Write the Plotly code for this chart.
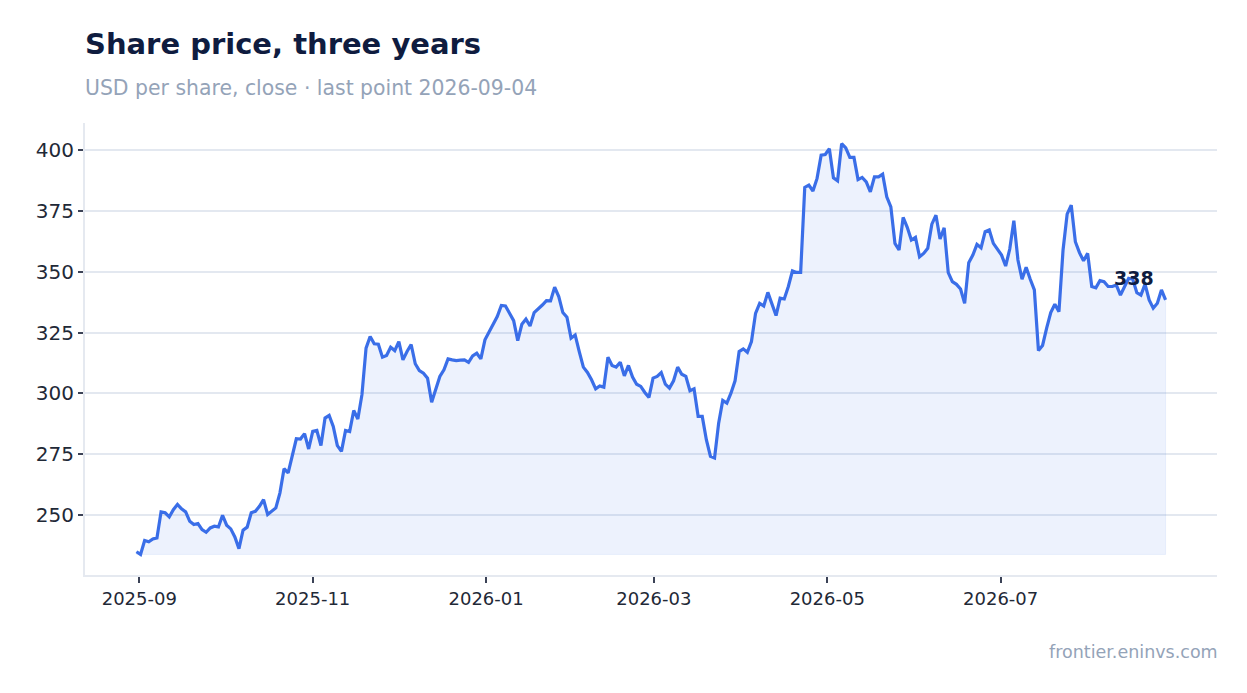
import pandas as pd
import plotly.graph_objects as go

# closing price, one value per session
price = [
    235.0, 233.9, 239.6, 239.1, 240.3, 240.7, 251.4, 251.0, 249.3, 252.3,
    254.4, 252.6, 251.4, 247.5, 246.2, 246.6, 244.1, 243.0, 244.8, 245.5,
    245.2, 250.0, 245.9, 244.4, 241.1, 236.3, 243.9, 245.1, 251.0, 251.6,
    253.7, 256.4, 250.3, 251.6, 253.0, 259.2, 269.1, 267.4, 274.9, 281.4,
    281.3, 283.5, 277.2, 284.4, 284.8, 278.6, 289.9, 291.0, 286.5, 278.6,
    276.2, 284.8, 284.4, 293.0, 289.5, 299.5, 318.6, 323.4, 320.4, 320.2,
    314.9, 315.6, 319.0,
    317.6, 321.3, 313.8, 317.2, 320.1, 312.2, 309.4, 308.3, 306.3, 296.4,
    302.2, 307.0, 309.7, 314.2, 313.8, 313.5, 313.7, 313.8, 312.8, 315.4,
    316.5, 314.2, 322.0, 325.0, 328.1, 331.6, 336.1, 335.9, 332.9, 329.9,
    321.7, 328.4, 330.5, 327.7, 333.2, 334.6, 336.3, 338.1, 338.0, 343.6,
    339.8, 333.2, 331.3, 322.7, 324.0, 317.2, 310.8, 308.6, 305.6, 301.9,
    303.1, 302.6, 314.9, 311.5, 310.8, 312.8, 307.2, 311.5, 306.7, 303.8,
    302.9, 300.4,
    298.4, 306.3, 307.0, 308.6, 303.8, 302.2, 305.2, 310.8, 307.9, 307.0,
    301.1, 301.9, 290.6, 290.6, 281.0, 274.2, 273.5, 287.8, 297.1, 296.0,
    300.1, 305.2, 317.2, 318.3, 316.9, 321.3, 332.9, 337.0, 335.9, 341.5,
    336.6, 332.0, 339.1, 338.8, 343.9, 350.3, 349.7, 349.7, 384.6, 385.5,
    383.1, 388.3, 397.8, 398.1, 400.5, 388.5, 387.3, 402.6, 400.8, 396.9,
    396.9, 387.8, 388.7, 386.9, 382.8, 388.9, 388.9, 390.0, 380.7, 376.6,
    361.6, 358.9,
    372.3, 368.2, 363.0, 364.1, 356.1, 357.5, 359.6, 369.5, 373.2, 363.4,
    368.0, 349.6, 345.9, 344.8, 342.9, 337.0, 353.7, 356.8, 361.2, 359.8,
    366.4, 367.1, 361.6, 358.9, 356.8, 352.3, 359.3, 370.9, 354.8, 346.9,
    351.8, 346.9, 342.5, 317.6, 319.7, 326.8, 333.2, 336.6, 333.6, 358.9,
    373.6, 377.3, 362.3, 357.8, 354.5, 357.5, 343.9, 343.4, 346.3, 345.9,
    343.9, 343.9, 344.5, 340.4, 344.1, 347.3, 346.9, 341.4, 340.4, 344.9,
    338.4, 335.0, 337.0, 342.5, 338.4,
]
first_date = "2025-08-31"
last_date = "2026-08-28"
x_ticks = ["2025-09-01", "2025-11-01", "2026-01-01", "2026-03-01", "2026-05-01", "2026-07-01"]
x_tick_labels = ["2025-09", "2025-11", "2026-01", "2026-03", "2026-05", "2026-07"]
y_ticks = [250, 275, 300, 325, 350, 375, 400]

dates = pd.date_range(first_date, last_date, periods=len(price))
base = min(price)

line_col = "#3a6ee8"
ink = "#0f1c3f"
grey = "#94a3b8"

fig = go.Figure()
# shaded area down to the lowest close
fig.add_trace(go.Scatter(
    x=list(dates) + list(dates[::-1]),
    y=price + [base] * len(price),
    fill="toself", fillcolor="rgba(58,110,232,0.09)",
    line=dict(color="rgba(58,110,232,0.08)", width=1),
    hoverinfo="skip", showlegend=False,
))
fig.add_trace(go.Scatter(
    x=dates, y=price, mode="lines",
    line=dict(color=line_col, width=3.2),
    showlegend=False,
))

span_y = max(price) - min(price)
span_x = dates[-1] - dates[0]
fig.update_xaxes(
    type="date", tickvals=x_ticks, ticktext=x_tick_labels,
    range=[dates[0] - span_x * 0.05, dates[-1] + span_x * 0.05],
    showgrid=False, showline=True, linecolor="#e5e9f0", linewidth=2,
    ticks="outside", ticklen=6, tickcolor="#3b4256", tickwidth=2,
    tickfont=dict(size=18, color="#1f2937"),
)
fig.update_yaxes(
    tickvals=y_ticks,
    range=[min(price) - span_y * 0.05, max(price) + span_y * 0.05],
    showgrid=True, gridcolor="#e3e8f0", gridwidth=2,
    showline=True, linecolor="#e5e9f0", linewidth=2,
    ticks="outside", ticklen=5, tickcolor="#3b4256", tickwidth=2,
    tickfont=dict(size=20, color="#1f2937"), zeroline=False,
)

fig.add_annotation(x=dates[-1], y=price[-1], text="<b>%d</b>" % round(price[-1]),
                   showarrow=False, xanchor="right", yanchor="bottom",
                   xshift=-10, yshift=9, font=dict(size=19, color=ink))
fig.add_annotation(xref="paper", yref="paper", x=0, y=1, xanchor="left", yanchor="middle",
                   xshift=-2, yshift=79, text="<b>Share price, three years</b>", showarrow=False,
                   font=dict(size=29, color=ink))
fig.add_annotation(xref="paper", yref="paper", x=0, y=1, xanchor="left", yanchor="middle",
                   xshift=-2, yshift=35, text="USD per share, close · last point 2026-09-04",
                   showarrow=False, font=dict(size=20.4, color=grey))
fig.add_annotation(xref="paper", yref="paper", x=1, y=0, xanchor="right", yanchor="middle",
                   xshift=3, yshift=-77, text="frontier.eninvs.com", showarrow=False,
                   font=dict(size=17.5, color=grey))

# page body has an 8px margin, so the figure is a little smaller than the window
fig.update_layout(
    width=1231, height=677,
    margin=dict(l=77, r=22, t=115, b=110),
    plot_bgcolor="white", paper_bgcolor="white",
    font=dict(family="DejaVu Sans", color="#1f2937"),
    hovermode="x",
)

fig.write_html("out.html")
